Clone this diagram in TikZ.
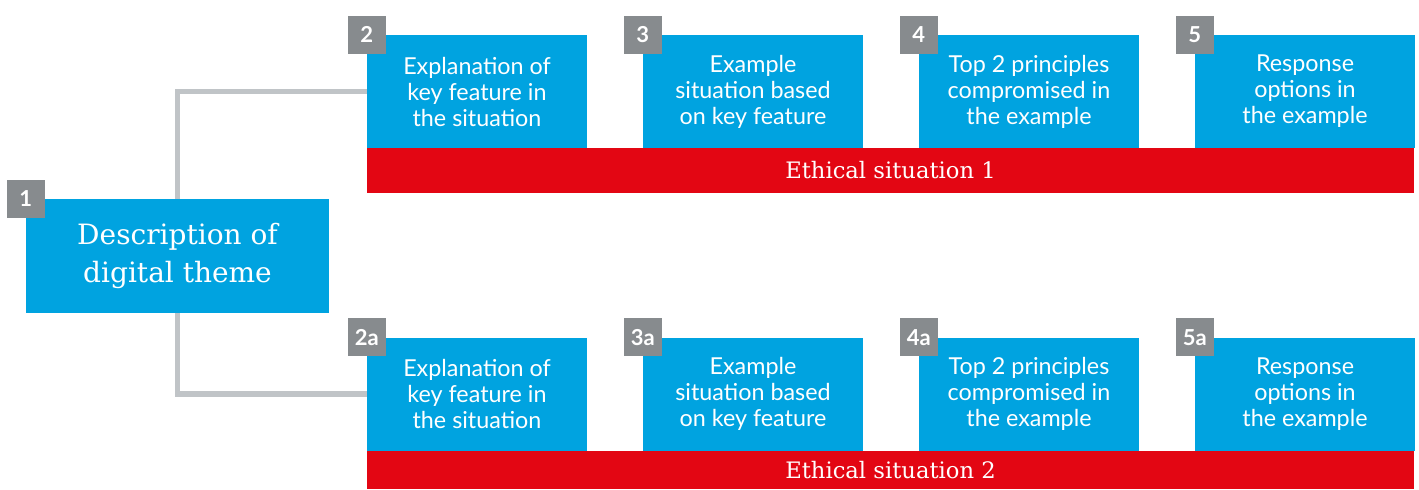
\documentclass[tikz,border=0pt]{standalone}
\usepackage{fontspec}
\usepackage{xcolor}
\usepackage{tikz}
\newfontfamily\boxfont{Lato}
\newfontfamily\slabfont{DejaVu Serif}
\definecolor{themeblue}{HTML}{00A3E0}
\definecolor{barred}{HTML}{E30613}
\definecolor{badgegray}{HTML}{878B8E}
\definecolor{linkgray}{HTML}{C0C4C7}
\tikzset{
  stepbox/.style={fill=themeblue,text=white,minimum width=165pt,minimum height=84.75pt,
    inner sep=0pt,align=center,font=\boxfont\fontsize{17.5}{19.5}\selectfont},
  badge/.style={fill=badgegray,text=white,minimum width=28.5pt,minimum height=28.5pt,
    inner sep=0pt,font=\boxfont\bfseries\fontsize{16.5}{18}\selectfont},
  situationbar/.style={fill=barred,text=white,minimum width=785.25pt,inner sep=0pt,
    font=\slabfont\fontsize{17}{18}\selectfont},
  link/.style={draw=linkgray,line width=4.2pt}
}

\begin{document}
\begin{tikzpicture}[x=0.75pt,y=0.75pt,yscale=-1,xscale=1]
\useasboundingbox (0,0) rectangle (1419,489);
%theme box
\node [fill=themeblue,text=white,minimum width=227.25pt,minimum height=85.5pt,inner sep=0pt,
  align=center,font=\slabfont\fontsize{21}{28.5}\selectfont] (theme) at (177.5,256)
  {Description of\\digital theme};
%connectors
\draw [link] (theme.north) |- (367,91.5) coordinate (linkA);
\draw [link] (theme.south) |- (367,394) coordinate (linkB);
%situation 1
\node [stepbox] (s2) at (477,91.5) {Explanation of\\key feature in\\the situation};
\node [stepbox] (s3) at (753,91.5) {Example\\situation based\\on key feature};
\node [stepbox] (s4) at (1029,91.5) {Top 2 principles\\compromised in\\the example};
\node [stepbox] (s5) at (1305,91.5) {Response\\options in\\the example};
\node [situationbar,minimum height=33.75pt] (bar1) at (890.5,170.5) {Ethical situation 1};
%situation 2
\node [stepbox] (s2a) at (477,394) {Explanation of\\key feature in\\the situation};
\node [stepbox] (s3a) at (753,394) {Example\\situation based\\on key feature};
\node [stepbox] (s4a) at (1029,394) {Top 2 principles\\compromised in\\the example};
\node [stepbox] (s5a) at (1305,394) {Response\\options in\\the example};
\node [situationbar,minimum height=28.5pt] (bar2) at (890.5,470) {Ethical situation 2};
%badges
\node [badge] (b1) at (theme.north west) {1};
\foreach \s/\t in {s2/2,s3/3,s4/4,s5/5,s2a/2a,s3a/3a,s4a/4a,s5a/5a}
  \node [badge] (b\s) at (\s.north west) {\t};
\end{tikzpicture}
\end{document}
